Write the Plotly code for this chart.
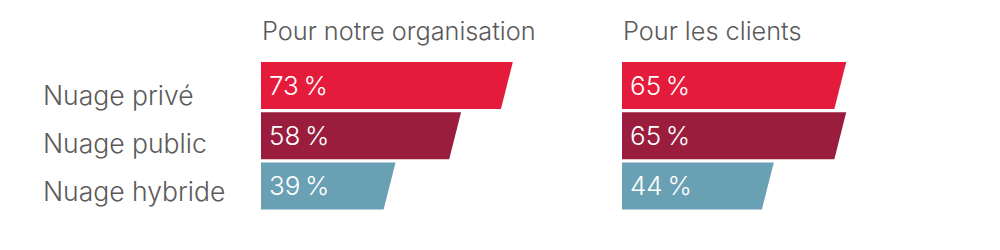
import plotly.graph_objects as go

categories = ["Nuage privé", "Nuage public", "Nuage hybride"]
panel_titles = ["Pour notre organisation", "Pour les clients"]
org_values = [73, 58, 39]
client_values = [65, 65, 44]
colors = ["#E51B3B", "#9A1D3D", "#6AA0B3"]

FONT = "Inter"
TEXT_GREY = "#5a5a5a"

fig = go.Figure()

bar_h = 0.935   # fraction of the category pitch
slant = 3.45    # horizontal slant of the right edge, in % units
x_range = [0, 84.06]

panels = [(org_values, "x", "y", [0.261, 0.551]), (client_values, "x2", "y2", [0.622, 0.912])]
for p, (vals, xa, ya, dom) in enumerate(panels):
    for i, (v, c) in enumerate(zip(vals, colors)):
        top, bot = i - bar_h / 2, i + bar_h / 2
        fig.add_trace(go.Scatter(
            x=[0, v, v - slant, 0, 0],
            y=[top, top, bot, bot, top],
            fill="toself", fillcolor=c, mode="lines",
            line=dict(width=0, color=c), hoverinfo="skip",
            xaxis=xa, yaxis=ya, showlegend=False,
        ))
        fig.add_annotation(
            x=1.8, y=i, xref=xa, yref=ya, text=f"{v}\u2009%",
            showarrow=False, xanchor="left", yanchor="middle",
            font=dict(family=FONT, size=26, color="white", weight=300),
        )
    fig.add_annotation(
        x=dom[0] - 0.001, y=1 - 30 / 250, xref="paper", yref="paper",
        text=panel_titles[p], showarrow=False, xanchor="left", yanchor="middle",
        font=dict(family=FONT, size=25.3, color=TEXT_GREY, weight=300),
    )

label_y_px = [95, 143, 191]
for cat, ypx in zip(categories, label_y_px):
    fig.add_annotation(
        x=0.041, y=1 - ypx / 250, xref="paper", yref="paper", text=cat,
        showarrow=False, xanchor="left", yanchor="middle",
        font=dict(family=FONT, size=26.5, color=TEXT_GREY, weight=300),
    )

y_dom = [0.1556, 0.7584]
axis_common = dict(showgrid=False, zeroline=False, showticklabels=False, showline=False, fixedrange=True)
fig.update_layout(
    width=1000, height=250, margin=dict(l=0, r=0, t=0, b=0),
    paper_bgcolor="white", plot_bgcolor="white",
    xaxis=dict(domain=[0.261, 0.551], range=x_range, **axis_common),
    xaxis2=dict(domain=[0.622, 0.912], range=x_range, **axis_common),
    yaxis=dict(domain=y_dom, range=[2.5, -0.5], anchor="x", **axis_common),
    yaxis2=dict(domain=y_dom, range=[2.5, -0.5], anchor="x2", **axis_common),
)

fig.write_html("out.html")
